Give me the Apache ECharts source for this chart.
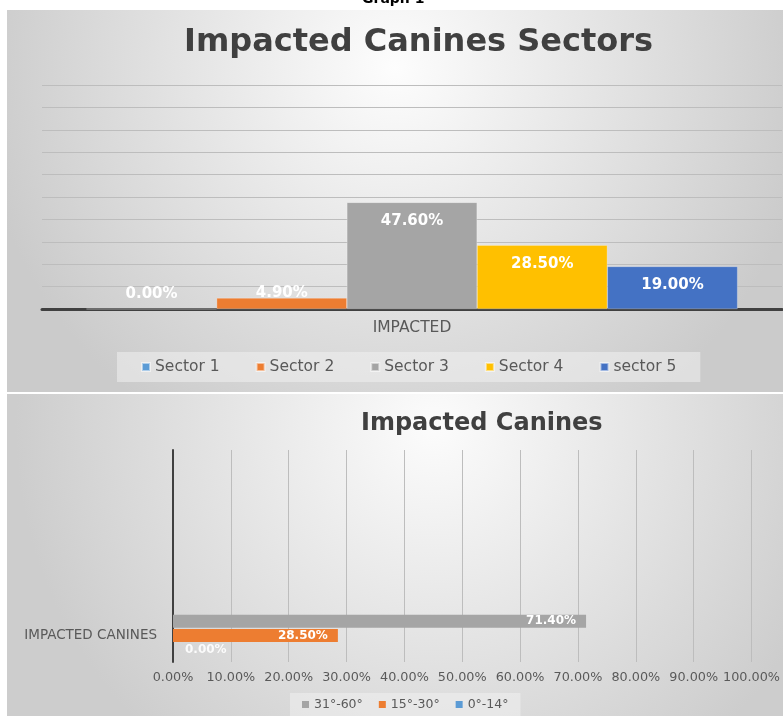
<!DOCTYPE html>
<html><head><meta charset="utf-8">
<script src="https://cdn.jsdelivr.net/npm/echarts@6/dist/echarts.min.js"></script>
<style>html,body{margin:0;padding:0;background:#fff}#c{width:783px;height:716px}</style>
</head><body><div id="c"></div>
<script>
// ---- data: top chart ----
const sectorCategories = ['IMPACTED'];
const sectorNames = ['Sector 1', 'Sector 2', 'Sector 3', 'Sector 4', 'sector 5'];
const sectorValues = [0.0, 4.9, 47.6, 28.5, 19.0];
const sectorColors = ['#5B9BD5', '#ED7D31', '#A5A5A5', '#FFC000', '#4472C4'];

// ---- data: bottom chart ----
const angleCategories = ['IMPACTED CANINES'];
const angleNames = ['31°-60°', '15°-30°', '0°-14°'];
const angleValues = [71.4, 28.5, 0.0];
const angleColors = ['#A5A5A5', '#ED7D31', '#5B9BD5'];

const FONT = 'DejaVu Sans';
const chart = echarts.init(document.getElementById('c'));

const topSeries = sectorNames.map((n, i) => {
  const small = sectorValues[i] < 10;
  return {
    type: 'bar', name: n, xAxisIndex: 0, yAxisIndex: 0,
    data: [sectorValues[i]],
    barGap: '0%', barCategoryGap: '12%',
    itemStyle: { color: sectorColors[i], borderColor: 'rgba(255,255,255,0.5)', borderWidth: 0.5 },
    label: {
      show: true, position: small ? 'insideBottom' : 'insideTop', distance: small ? 8 : 11,
      color: '#fff', fontFamily: FONT, fontWeight: 'bold', fontSize: 15,
      formatter: p => p.value.toFixed(2) + '%'
    }
  };
});

const bottomSeries = angleNames.map((n, i) => {
  const zero = angleValues[i] === 0;
  return {
    type: 'bar', name: n, xAxisIndex: 1, yAxisIndex: 1,
    data: [angleValues[i]],
    barWidth: 13, barGap: '10%',
    itemStyle: { color: angleColors[i] },
    label: {
      show: true, position: zero ? 'right' : 'insideRight', distance: zero ? 12 : 10,
      color: zero ? 'rgba(255,255,255,0.9)' : '#fff', fontFamily: FONT, fontWeight: 'bold', fontSize: 12,
      formatter: p => p.value.toFixed(2) + '%'
    }
  };
});

chart.setOption({
  animation: false,
  textStyle: { fontFamily: FONT },
  graphic: {
    elements: [
      { type: 'rect', z: -10, silent: true, shape: { x: 7, y: 10, width: 776, height: 382 },
        style: { fill: new echarts.graphic.RadialGradient(0.5, 0.15, 1.1, [
          { offset: 0, color: '#fdfdfd' }, { offset: 1, color: '#cbcbcb' }]) } },
      { type: 'rect', z: -10, silent: true, shape: { x: 7, y: 394, width: 776, height: 322 },
        style: { fill: new echarts.graphic.RadialGradient(0.55, 0.1, 1.3, [
          { offset: 0, color: '#fcfcfc' }, { offset: 1, color: '#cdcdcd' }]) } },
      { type: 'text', z: 10, left: 362, top: -8, silent: true,
        style: { text: 'Graph 1', font: 'bold 14px "DejaVu Sans"', fill: '#000' } }
    ]
  },
  title: [
    { text: 'Impacted Canines Sectors', left: 179, top: 22,
      textStyle: { fontFamily: FONT, fontWeight: 'bold', fontSize: 32, color: '#404040' } },
    { text: 'Impacted Canines', left: 356, top: 407,
      textStyle: { fontFamily: FONT, fontWeight: 'bold', fontSize: 24, color: '#404040' } }
  ],
  legend: [
    { data: sectorNames, left: 117, top: 352, itemWidth: 8, itemHeight: 8, itemGap: 36,
      icon: 'rect', padding: [7, 24], backgroundColor: 'rgba(240,240,240,0.55)',
      textStyle: { fontFamily: FONT, fontSize: 15.5, color: '#595959' } },
    { data: angleNames, left: 290, top: 693, itemWidth: 7, itemHeight: 7, itemGap: 16,
      icon: 'rect', padding: [5, 12], backgroundColor: 'rgba(240,240,240,0.55)',
      textStyle: { fontFamily: FONT, fontSize: 12.5, color: '#595959' } }
  ],
  grid: [
    { left: 42, right: 1, top: 85, bottom: 716 - 309 },
    { left: 173, right: 25, top: 450, bottom: 716 - 662 }
  ],
  xAxis: [
    { type: 'category', gridIndex: 0, data: sectorCategories,
      axisLine: { lineStyle: { color: '#404040', width: 3 } }, axisTick: { show: false },
      axisLabel: { margin: 11, color: '#595959', fontSize: 15.5, fontFamily: FONT } },
    { type: 'value', gridIndex: 1, min: 0, max: 100, interval: 10,
      axisLine: { show: false }, axisTick: { show: false },
      splitLine: { lineStyle: { color: '#bdbdbd', width: 1 } },
      axisLabel: { margin: 9, color: '#595959', fontSize: 12.8, fontFamily: FONT,
        formatter: v => v.toFixed(2) + '%' } }
  ],
  yAxis: [
    { type: 'value', gridIndex: 0, min: 0, max: 100, interval: 10,
      axisLine: { show: false }, axisTick: { show: false }, axisLabel: { show: false },
      splitLine: { lineStyle: { color: '#bdbdbd', width: 1 } } },
    { type: 'category', gridIndex: 1, data: angleCategories, max: 3,
      axisLine: { lineStyle: { color: '#404040', width: 2 } }, axisTick: { show: false },
      axisLabel: { margin: 16, color: '#595959', fontSize: 13.5, fontFamily: FONT,
        formatter: v => (v == null || v === 'undefined') ? '' : v } }
  ],
  series: topSeries.concat(bottomSeries)
});
</script></body></html>
